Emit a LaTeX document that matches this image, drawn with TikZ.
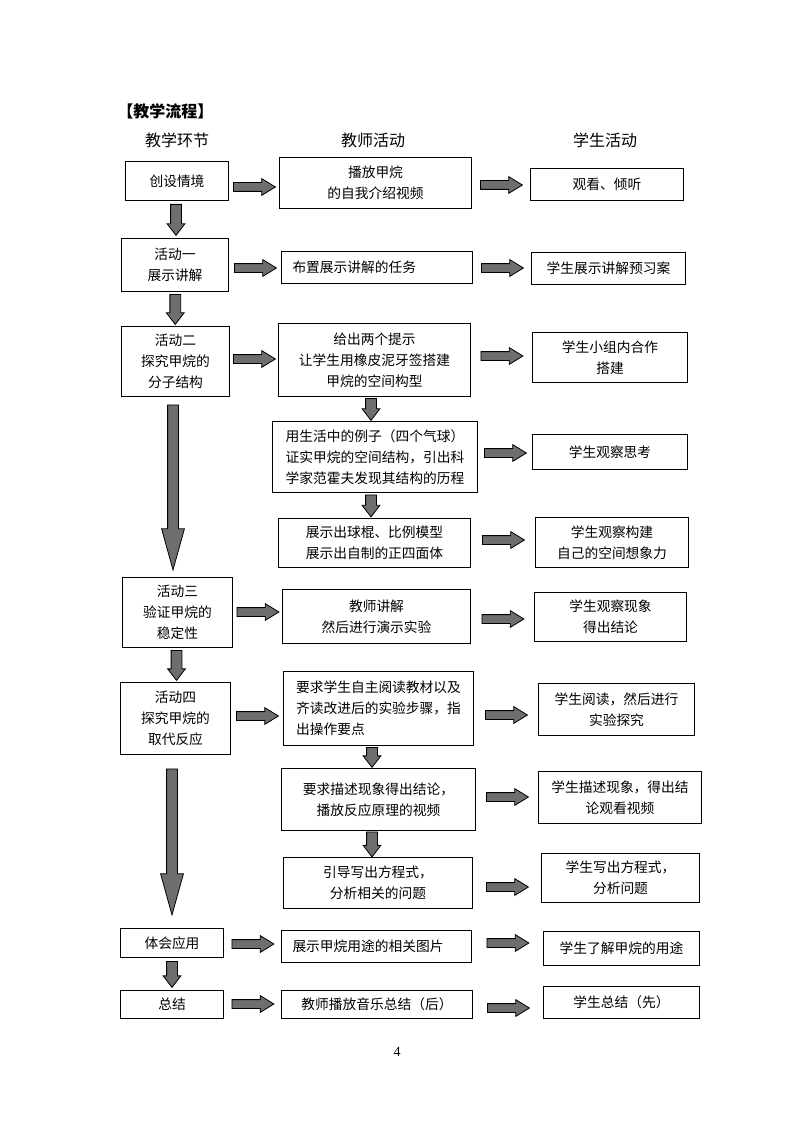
\documentclass[tikz,border=0pt]{standalone}
\usepackage{fontspec}
\setmainfont{Noto Sans CJK SC}
\newfontfamily\numfont{Liberation Serif}
\usetikzlibrary{shapes.arrows}
\definecolor{arrowgray}{RGB}{110,110,110}
\tikzset{
  boxsty/.style={draw=black, line width=0.75pt, inner sep=0pt, align=center,
    font=\fontsize{10.3pt}{15.8pt}\selectfont},
  arrbase/.style={single arrow, draw=black, fill=arrowgray, line width=0.6pt,
    inner xsep=0pt, single arrow head indent=0pt, anchor=tail},
  harr/.style={xshift=-15.75pt, arrbase, inner ysep=3pt, minimum height=31.5pt, minimum width=12pt,
    single arrow head extend=3pt, single arrow tip angle=63},
  varr/.style={yshift={#1*0.375pt}, arrbase, rotate=-90, inner ysep=3.75pt, minimum height={#1*0.75pt}, minimum width=12.75pt,
    single arrow head extend=2.6pt, single arrow tip angle=75},
  longarr/.style={yshift={#1*0.375pt}, arrbase, rotate=-90, inner ysep=3.75pt, minimum height={#1*0.75pt}, minimum width=16.5pt,
    single arrow head extend=4.5pt, single arrow tip angle=31},
  hdr/.style={font=\fontsize{12pt}{14pt}\selectfont, inner sep=0pt},
}
\newcommand\bx[7]{\node[boxsty,#6,minimum width={(#4-#2)*0.75pt},minimum height={(#5-#3)*0.75pt},anchor=north west] (#1) at (#2,#3) {#7};}
\begin{document}
\begin{tikzpicture}[x=0.75pt,y=-0.75pt]
\fill[white] (0,0) rectangle (794,1123);
\useasboundingbox (0,0) rectangle (794,1123);
% title and headers
\node[anchor=west, inner sep=0pt, font=\bfseries\fontsize{12pt}{14pt}\selectfont] (title) at (117,111) {【教学流程】};
\node[hdr] (hA) at (177,140) {教学环节};
\node[hdr] (hB) at (373,140) {教师活动};
\node[hdr] (hC) at (605,140) {学生活动};
% column 1
\bx{c1}{125}{161}{228}{200}{}{创设情境}
\bx{c2}{121}{238}{228}{291}{}{活动一\\展示讲解}
\bx{c3}{121}{326}{229}{396}{}{活动二\\探究甲烷的\\分子结构}
\bx{c4}{122}{577}{232}{647}{}{活动三\\验证甲烷的\\稳定性}
\bx{c5}{120}{682}{230}{754}{}{活动四\\探究甲烷的\\取代反应}
\bx{c6}{120}{928}{223}{957}{}{体会应用}
\bx{c7}{120}{990}{223}{1018}{}{总结}
% column 2
\bx{t1}{279}{157}{471}{208}{}{播放甲烷\\的自我介绍视频}
\bx{t2}{281}{251}{472}{283}{align=left,text width=126.75pt}{布置展示讲解的任务}
\bx{t3}{278}{323}{470}{396}{}{给出两个提示\\让学生用橡皮泥牙签搭建\\甲烷的空间构型}
\bx{t4}{272}{421}{477}{492}{align=left}{用生活中的例子（四个气球）\\证实甲烷的空间结构，引出科\\学家范霍夫发现其结构的历程}
\bx{t5}{278}{518}{470}{567}{}{展示出球棍、比例模型\\展示出自制的正四面体}
\bx{t6}{282}{589}{470}{643}{}{教师讲解\\然后进行演示实验}
\bx{t7}{283}{671}{473}{745}{align=left}{要求学生自主阅读教材以及\\齐读改进后的实验步骤，指\\出操作要点}
\bx{t8}{281}{768}{475}{830}{}{要求描述现象得出结论，\\播放反应原理的视频}
\bx{t9}{283}{857}{472}{908}{}{引导写出方程式，\\分析相关的问题}
\bx{t10}{281}{930}{471}{962}{align=left,text width=126pt}{展示甲烷用途的相关图片}
\bx{t11}{281}{990}{472}{1018}{}{教师播放音乐总结（后）}
% column 3
\bx{s1}{530}{168}{683}{200}{}{观看、倾听}
\bx{s2}{531}{252}{685}{284}{}{学生展示讲解预习案}
\bx{s3}{532}{332}{687}{382}{}{学生小组内合作\\搭建}
\bx{s4}{532}{434}{687}{469}{}{学生观察思考}
\bx{s5}{535}{517}{688}{567}{}{学生观察构建\\自己的空间想象力}
\bx{s6}{534}{592}{686}{641}{}{学生观察现象\\得出结论}
\bx{s7}{538}{683}{694}{735}{}{学生阅读，然后进行\\实验探究}
\bx{s8}{538}{771}{701}{823}{}{学生描述现象，得出结\\论观看视频}
\bx{s9}{541}{853}{699}{902}{}{学生写出方程式，\\分析问题}
\bx{s10}{543}{931}{699}{965}{}{学生了解甲烷的用途}
\bx{s11}{543}{986}{699}{1018}{}{学生总结（先）}
% vertical arrows, column 1
\path (c1.south) -- (c2.north) node[midway,varr=31]{};
\path (c2.south) -- (c3.north) node[midway,varr=30]{};
\path (c3.south -| 173,0) -- (c4.north -| 173,0) node[midway,longarr=165]{};
\path (c4.south) -- (c5.north) node[midway,varr=30]{};
\path (c5.south -| 172,0) -- (c6.north -| 172,0) node[midway,longarr=146]{};
\path (c6.south) -- (c7.north) node[midway,varr=26]{};
% vertical arrows, column 2
\path (t3.south -| 371,0) -- (t4.north -| 371,0) node[midway,varr=22]{};
\path (t4.south -| 371,0) -- (t5.north -| 371,0) node[midway,varr=22]{};
\path (t7.south -| 372,0) -- (t8.north -| 372,0) node[midway,varr=20]{};
\path (t8.south -| 372,0) -- (t9.north -| 372,0) node[midway,varr=25]{};
% horizontal arrows
\path (c1.east |- 0,187) -- (t1.west |- 0,187) node[midway,harr]{};
\path (t1.east |- 0,185) -- (s1.west |- 0,185) node[midway,harr]{};
\path (c2.east |- 0,268) -- (t2.west |- 0,268) node[midway,harr]{};
\path (t2.east |- 0,268) -- (s2.west |- 0,268) node[midway,harr]{};
\path (c3.east |- 0,359) -- (t3.west |- 0,359) node[midway,harr]{};
\path (t3.east |- 0,356) -- (s3.west |- 0,356) node[midway,harr]{};
\path (t4.east |- 0,453) -- (s4.west |- 0,453) node[midway,harr]{};
\path (t5.east |- 0,540) -- (s5.west |- 0,540) node[midway,harr]{};
\path (c4.east |- 0,612) -- (t6.west |- 0,612) node[midway,harr]{};
\path (t6.east |- 0,619) -- (s6.west |- 0,619) node[midway,harr]{};
\path (c5.east |- 0,716) -- (t7.west |- 0,716) node[midway,harr]{};
\path (t7.east |- 0,715) -- (s7.west |- 0,715) node[midway,harr]{};
\path (t8.east |- 0,797) -- (s8.west |- 0,797) node[midway,harr]{};
\path (t9.east |- 0,887) -- (s9.west |- 0,887) node[midway,harr]{};
\path (c6.east |- 0,944) -- (t10.west |- 0,944) node[midway,harr]{};
\path (t10.east |- 0,943) -- (s10.west |- 0,943) node[midway,harr]{};
\path (c7.east |- 0,1004) -- (t11.west |- 0,1004) node[midway,harr]{};
\path (t11.east |- 0,1008) -- (s11.west |- 0,1008) node[midway,harr]{};
% page number
\node[inner sep=0pt, font=\numfont\fontsize{10.5pt}{12pt}\selectfont] (pg) at (397,1052) {4};
\end{tikzpicture}
\end{document}
